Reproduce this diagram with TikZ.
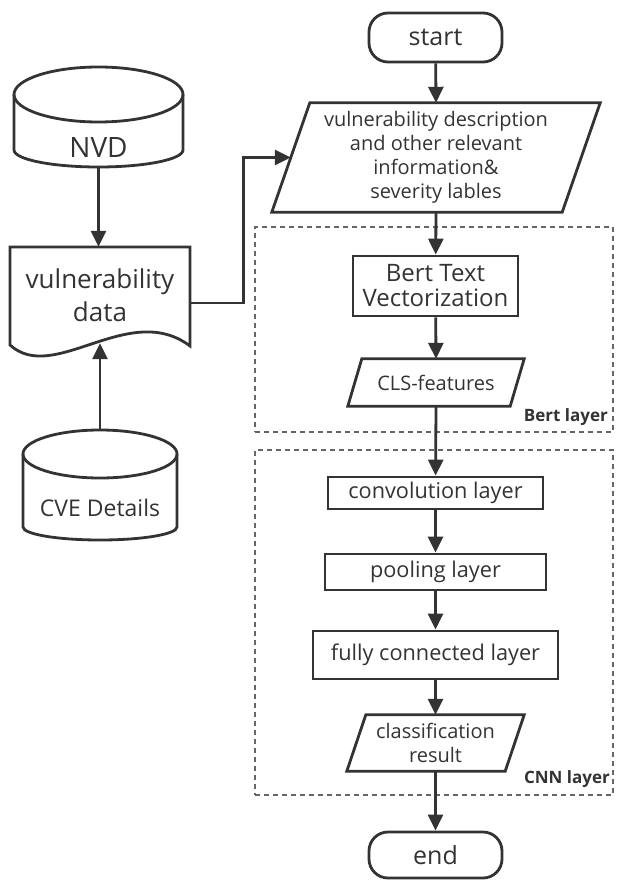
\documentclass[tikz,border=0pt]{standalone}
\usepackage{fontspec}
\setmainfont{Open Sans}
\usetikzlibrary{arrows.meta,calc}
\definecolor{ink}{HTML}{333333}
\definecolor{dashgray}{HTML}{666666}
\newcommand\parashape[2]{\draw[line] ([xshift=#2]#1.north west) -- ([xshift=#2]#1.north east) -- ([xshift=-#2]#1.south east) -- ([xshift=-#2]#1.south west) -- cycle;}
\begin{document}
\begin{tikzpicture}[x=1pt,y=-1pt,
  line/.style={draw=ink, line width=2.8pt, line join=miter},
  arr/.style={draw=ink, line width=2.8pt, -{Triangle[length=16pt,width=15pt]}},
  txt/.style={text=ink, font=\fontsize{20}{24}\selectfont, align=center, inner sep=0pt},
  midtxt/.style={font=\fontsize{21.7}{25}\selectfont},
  bertfont/.style={font=\fontsize{24}{25}\selectfont},
  termfont/.style={font=\fontsize{25}{28}\selectfont},
  bigtxt/.style={text=ink, font=\fontsize{26}{33}\selectfont, align=center, inner sep=0pt},
  dbtxt/.style={text=ink, font=\fontsize{23}{28}\selectfont, align=center, inner sep=0pt},
  lbl/.style={text=ink, font=\bfseries\fontsize{17}{20}\selectfont, inner sep=0pt, anchor=east},
  stepbox/.style={txt, draw=ink, line width=2.8pt, rectangle},
  term/.style={txt, termfont, draw=ink, line width=2.8pt, rectangle, rounded corners=19pt, minimum width=133pt},
  shape0/.style={txt, draw=none, rectangle},
  dashbox/.style={draw=dashgray, line width=1.3pt, dash pattern=on 5pt off 4pt, rectangle, inner sep=0pt}
]
\useasboundingbox (0,0) rectangle (616,880);

% layer frames
\node[dashbox, minimum width=358pt, minimum height=205pt] (bertframe) at (434,329.5) {};
\node[dashbox, minimum width=358pt, minimum height=345pt] (cnnframe) at (434,622.5) {};
\node[lbl] (bertlbl) at (608,417) {Bert layer};
\node[lbl] (cnnlbl) at (610,779) {CNN layer};

% main flow
\node[term, minimum height=49pt] (start) at (435.5,37.5) {start};
\node[shape0, minimum width=290pt, minimum height=109pt] (para) at (436,157.5)
  {vulnerability description\\and other relevant\\information\&\\severity lables};
\parashape{para}{19pt}
\node[stepbox, bertfont, minimum width=165pt, minimum height=60pt] (bert) at (435.5,286) {Bert Text\\Vectorization};
\node[shape0, minimum width=162pt, minimum height=47pt] (cls) at (436,382.5) {CLS-features};
\parashape{cls}{7pt}
\node[stepbox, midtxt, minimum width=215pt, minimum height=32pt] (conv) at (435.5,493) {convolution layer};
\node[stepbox, midtxt, minimum width=221pt, minimum height=36pt] (pool) at (435.5,572) {pooling layer};
\node[stepbox, midtxt, minimum width=245pt, minimum height=48pt] (fc) at (435.5,655) {fully connected layer};
\node[shape0, minimum width=158pt, minimum height=56pt] (class) at (435.5,743) {classification\\result};
\parashape{class}{9.5pt}
\node[term, minimum height=46pt] (end) at (435.5,855) {end};

% left column
\node[shape0, minimum width=169pt, minimum height=100pt] (nvd) at (98.5,117) {};
\draw[line] (98.5,94.5) ellipse[x radius=84.5pt, y radius=27.5pt];
\draw[line] (14,94.5) -- (14,150) arc[start angle=180, end angle=360, x radius=84.5pt, y radius=17pt] -- (183,94.5);
\node[dbtxt, font=\fontsize{28}{30}\selectfont] (nvdtext) at (98.5,148) {NVD};

\node[bigtxt, minimum width=180pt, minimum height=96pt] (doc) at (100,295) {vulnerability\\data};
\draw[line] (10,247) -- (190,247) -- (190,346) .. controls (129,300) and (54,385) .. (10,345) -- cycle;

\node[shape0, minimum width=154pt, minimum height=110pt] (cve) at (100,485) {};
\draw[line] (100,454) ellipse[x radius=77pt, y radius=24pt];
\draw[line] (23,454) -- (23,527) arc[start angle=180, end angle=360, x radius=77pt, y radius=13pt] -- (177,454);
\node[dbtxt] (cvetext) at (100,508) {CVE Details};

% connectors
\draw[arr] (start) -- (para.north);
\draw[arr] (para.south) -- (bert);
\draw[arr] (bert) -- (cls.north);
\draw[arr] (cls.south) -- (conv);
\draw[arr] (conv) -- (pool);
\draw[arr] (pool) -- (fc);
\draw[arr] (fc) -- (class.north);
\draw[arr] (class.south) -- (end);
\draw[arr] (nvd.south) -- (nvd.south |- doc.north);
\draw[arr] (cve.north) -- (doc.south);
\draw[arr] ([yshift=-8pt]doc.east) -- ++(53,0) |- (para.west);
\end{tikzpicture}
\end{document}
